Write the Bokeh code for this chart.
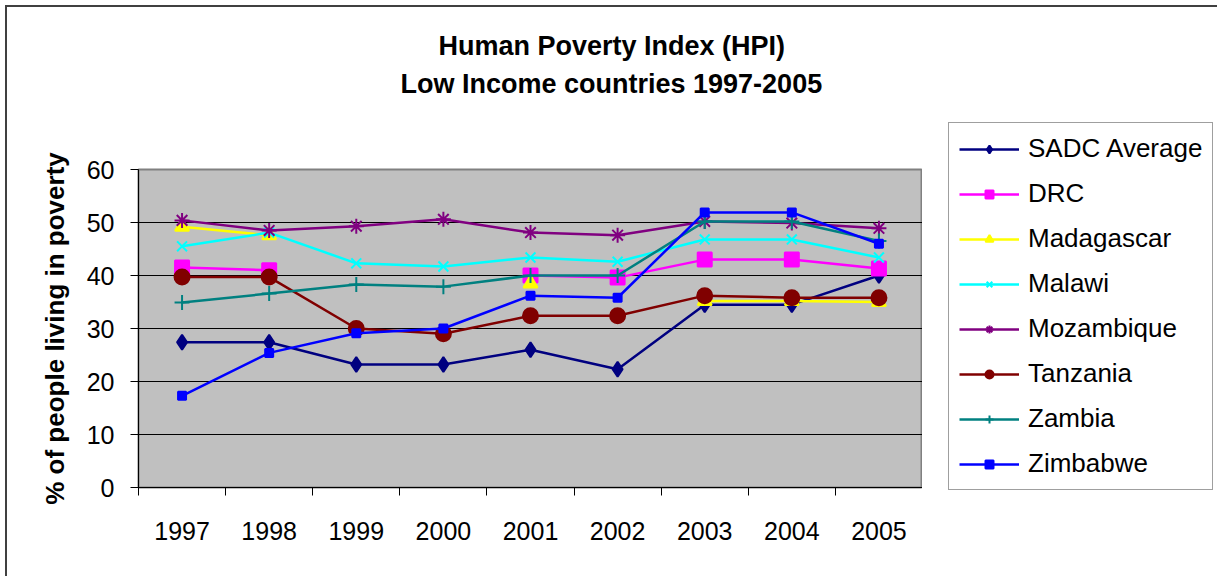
from bokeh.plotting import figure
from bokeh.layouts import row
from bokeh.models import (FixedTicker, Legend, LegendItem, Title, ColumnDataSource)
from bokeh.embed import file_html
from bokeh.resources import INLINE
import math

NAN = math.nan

years = [1997, 1998, 1999, 2000, 2001, 2002, 2003, 2004, 2005]
year_labels = ["1997", "1998", "1999", "2000", "2001", "2002", "2003", "2004", "2005"]
y_ticks = [0, 10, 20, 30, 40, 50, 60]

sadc_average = [27.4, 27.4, 23.2, 23.2, 26.0, 22.3, 34.5, 34.5, 40.0]
drc = [41.5, 41.0, NAN, NAN, 40.0, 39.6, 43.0, 43.0, 41.3]
madagascar = [49.2, 47.6, NAN, NAN, 38.5, NAN, 35.2, 35.2, 35.0]
malawi = [45.5, 48.1, 42.3, 41.7, 43.4, 42.6, 46.8, 46.8, 43.4]
mozambique = [50.4, 48.5, 49.3, 50.6, 48.1, 47.6, 50.2, 49.9, 48.9]
tanzania = [39.7, 39.7, 30.0, 29.0, 32.4, 32.4, 36.2, 35.8, 35.8]
zambia = [34.9, 36.6, 38.3, 37.9, 40.0, 40.0, 50.2, 50.2, 46.5]
zimbabwe = [17.3, 25.4, 29.1, 30.0, 36.2, 35.8, 51.9, 51.9, 46.0]

FONT = "Liberation Sans"

# page offset of the chart, leaving room for its outer border
OFF = 7
LEGEND_W = 295

p = figure(width=1217 - OFF - LEGEND_W, height=576 - OFF, title=None,
           x_range=(1996.5, 2005.5), y_range=(0, 60),
           output_backend="svg", toolbar_location=None,
           min_border_left=138 - OFF, min_border_right=0,
           min_border_top=169 - OFF, min_border_bottom=89)

p.background_fill_color = "#C0C0C0"
p.border_fill_color = "white"
p.outline_line_color = "#808080"
p.outline_line_width = 2

# horizontal gridlines only
p.xgrid.grid_line_color = None
p.ygrid.grid_line_color = "black"
p.ygrid.grid_line_width = 1
p.ygrid.ticker = FixedTicker(ticks=y_ticks)

# y axis
p.yaxis.ticker = FixedTicker(ticks=y_ticks)
p.yaxis.axis_line_color = "black"
p.yaxis.axis_line_width = 1
p.yaxis.major_tick_line_color = "black"
p.yaxis.major_tick_out = 8
p.yaxis.major_tick_in = 0
p.yaxis.minor_tick_line_color = None
p.yaxis.major_label_text_font = FONT
p.yaxis.major_label_text_font_size = "25px"
p.yaxis.major_label_text_color = "black"
p.yaxis.major_label_standoff = 16
p.yaxis.axis_label = "% of people living in poverty"
p.yaxis.axis_label_text_font = FONT
p.yaxis.axis_label_text_font_size = "26px"
p.yaxis.axis_label_text_font_style = "bold"
p.yaxis.axis_label_text_color = "black"
p.yaxis.axis_label_standoff = 14

# x axis: labels under each year, tick marks between the years
p.xaxis.ticker = FixedTicker(ticks=years,
                             minor_ticks=[y - 0.5 for y in years] + [years[-1] + 0.5])
p.xaxis.major_label_overrides = {y: s for y, s in zip(years, year_labels)}
p.xaxis.axis_line_color = "black"
p.xaxis.major_tick_line_color = None
p.xaxis.major_tick_out = 0
p.xaxis.major_tick_in = 0
p.xaxis.minor_tick_line_color = "black"
p.xaxis.minor_tick_out = 8
p.xaxis.minor_tick_in = 0
p.xaxis.major_label_text_font = FONT
p.xaxis.major_label_text_font_size = "25px"
p.xaxis.major_label_text_color = "black"
p.xaxis.major_label_standoff = 26

series = [
    ("SADC Average", sadc_average, "#000080", "diamond", 15),
    ("DRC", drc, "#FF00FF", "square", 14),
    ("Madagascar", madagascar, "#FFFF00", "triangle", 14),
    ("Malawi", malawi, "#00FFFF", "x", 14),
    ("Mozambique", mozambique, "#800080", "asterisk", 15),
    ("Tanzania", tanzania, "#800000", "circle", 15),
    ("Zambia", zambia, "#008080", "cross", 15),
    ("Zimbabwe", zimbabwe, "#0000FF", "square", 8),
]

# legend panel to the right of the plot
lg = figure(width=LEGEND_W, height=576 - OFF, x_range=(0, 1), y_range=(0, 1),
            x_axis_type=None, y_axis_type=None, output_backend="svg",
            toolbar_location=None, title=None,
            min_border_left=0, min_border_right=0, min_border_top=0, min_border_bottom=0)
lg.grid.visible = False
lg.outline_line_color = None
lg.background_fill_color = "white"
lg.border_fill_color = "white"

# keep each panel's own frame instead of lining the frames up across the row
for fig in (p, lg):
    if "frame_align" in fig.properties():
        fig.frame_align = False

items = []
for name, vals, color, marker, size in series:
    src = ColumnDataSource(dict(x=years, y=vals))
    p.line("x", "y", source=src, line_color=color, line_width=2.5)
    p.scatter("x", "y", source=src, marker=marker, size=size,
              fill_color=color, line_color=color, line_width=2)
    # legend swatches share the series data; the year values lie outside this panel's view
    ln = lg.line("x", "y", source=src, line_color=color, line_width=2.5)
    sc = lg.scatter("x", "y", source=src, marker=marker, size=size,
                    fill_color=color, line_color=color, line_width=2)
    items.append(LegendItem(label=name, renderers=[ln, sc]))

legend = Legend(items=items, location=(26, 86))
legend.label_text_font = FONT
legend.label_text_font_size = "26px"
legend.label_text_color = "black"
legend.glyph_width = 60
legend.glyph_height = 20
legend.label_height = 20
legend.spacing = 14
legend.padding = 10
legend.margin = 0
legend.label_standoff = 9
legend.border_line_color = "#404040"
legend.border_line_width = 1
legend.background_fill_color = "white"
legend.background_fill_alpha = 1
lg.add_layout(legend, "center")

# gap between the title block and the plot area
p.add_layout(Title(text=" ", standoff=36, text_font=FONT, text_font_size="27px"), "above")

# two-line chart title, nearest line first
for txt, off in [("Low Income countries 1997-2005", 262), ("Human Poverty Index (HPI)", 300)]:
    p.add_layout(Title(text=txt, align="left", offset=off, standoff=6,
                       text_font=FONT, text_font_size="27px",
                       text_font_style="bold", text_color="black"), "above")

layout = row(p, lg, spacing=0)
layout.margin = (5, 0, 0, 5)
layout.styles = {"border-left": "2px solid #404040", "border-top": "2px solid #404040"}

open("out.html", "w").write(file_html(layout, INLINE))
